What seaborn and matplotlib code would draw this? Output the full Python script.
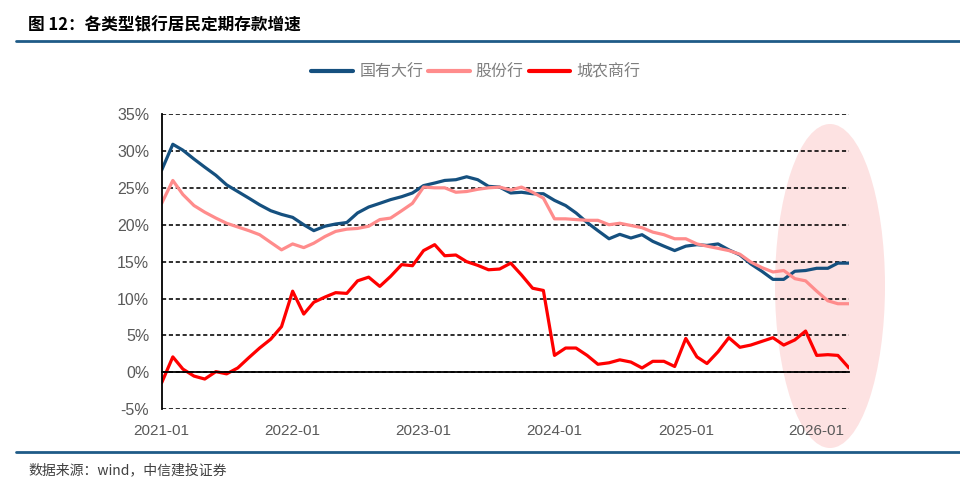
import matplotlib

matplotlib.use("Agg")
import matplotlib.pyplot as plt
import numpy as np
import pandas as pd
import seaborn as sns
from matplotlib.patches import Ellipse
from matplotlib.lines import Line2D

# monthly data, 2021-01 .. 2026-04 (YoY growth, %)
months = pd.date_range("2021-01-01", periods=64, freq="MS")

state_owned = [
    27.4, 30.9, 30.1, 28.9, 27.8, 26.7, 25.4, 24.5, 23.6, 22.7,
    21.9, 21.4, 21.0, 20.0, 19.2, 19.8, 20.1, 20.3, 21.6, 22.4,
    22.9, 23.4, 23.8, 24.3, 25.3, 25.65, 26.0, 26.1, 26.5, 26.1,
    25.2, 25.1, 24.3, 24.4, 24.2, 24.2, 23.3, 22.6, 21.6, 20.3,
    19.2, 18.1, 18.7, 18.2, 18.65, 17.75, 17.1, 16.5, 17.1, 17.3,
    17.2, 17.4, 16.6, 15.9, 14.7, 13.7, 12.6, 12.6, 13.7, 13.8,
    14.1, 14.1, 14.8, 14.8,
]
joint_stock = [
    22.9, 26.0, 24.1, 22.6, 21.7, 20.9, 20.2, 19.7, 19.2, 18.65,
    17.6, 16.6, 17.4, 16.9, 17.5, 18.4, 19.1, 19.4, 19.5, 19.8,
    20.7, 20.9, 21.9, 22.9, 25.1, 25.0, 25.0, 24.4, 24.5, 24.8,
    25.0, 25.1, 24.7, 25.1, 24.4, 23.6, 20.8, 20.8, 20.7, 20.6,
    20.6, 20.0, 20.2, 19.9, 19.6, 19.0, 18.65, 18.1, 18.1, 17.4,
    17.1, 16.8, 16.5, 16.0, 14.95, 14.2, 13.6, 13.8, 12.7, 12.4,
    11.0, 9.7, 9.3, 9.3,
]
rural = [
    -1.4, 2.1, 0.45, -0.5, -0.9, 0.1, -0.2, 0.6, 2.0, 3.3,
    4.5, 6.2, 11.0, 7.9, 9.5, 10.2, 10.8, 10.7, 12.4, 12.9,
    11.65, 13.0, 14.6, 14.45, 16.5, 17.3, 15.8, 15.9, 15.0, 14.5,
    13.9, 14.0, 14.8, 13.2, 11.4, 11.1, 2.3, 3.3, 3.3, 2.3,
    1.1, 1.3, 1.7, 1.4, 0.6, 1.5, 1.5, 0.8, 4.6, 2.1,
    1.2, 2.8, 4.7, 3.4, 3.7, 4.2, 4.7, 3.7, 4.4, 5.6,
    2.3, 2.4, 2.3, 0.6,
]

series_names = ["国有大行", "股份行", "城农商行"]
colors = {"国有大行": "#15507f", "股份行": "#ff8c8c", "城农商行": "#ff0000"}
year_ticks = pd.date_range("2021-01-01", "2026-01-01", freq="YS")
y_ticks = np.arange(-5, 36, 5)

df = pd.DataFrame({"month": months, "国有大行": state_owned, "股份行": joint_stock, "城农商行": rural})
long_df = df.melt(id_vars="month", var_name="series", value_name="value")

sns.set_style("white")
plt.rcParams["font.family"] = ["Liberation Sans", "Noto Sans CJK SC", "DejaVu Sans"]
cjk = ["Noto Sans CJK SC", "DejaVu Sans"]

fig = plt.figure(figsize=(9.6, 4.91), dpi=100)
W, H = 960, 491
ax = fig.add_axes([161.7 / W, 1 - 409.3 / H, (849 - 161.7) / W, (409.3 - 114) / H])
ax.patch.set_visible(False)

sns.lineplot(
    data=long_df, x="month", y="value", hue="series", hue_order=series_names,
    palette=colors, linewidth=2.3, ax=ax, legend=False,
)

ax.set_xlim(months[0], months[-1])
ax.set_ylim(-5, 35)
ax.set_yticks(y_ticks)
ax.set_yticklabels([f"{v}%" for v in y_ticks])
ax.set_xticks(year_ticks)
ax.set_xticklabels([d.strftime("%Y-%m") for d in year_ticks])
ax.set_xlabel("")
ax.set_ylabel("")

ax.yaxis.grid(True, color="black", linestyle=(0, (2.6, 1.7)), linewidth=1.15)
ax.xaxis.grid(False)
for side in ["top", "right"]:
    ax.spines[side].set_visible(False)
ax.spines["left"].set_color("black")
ax.spines["left"].set_linewidth(1.3)
ax.spines["bottom"].set_position(("data", 0))
ax.spines["bottom"].set_color("black")
ax.spines["bottom"].set_linewidth(1.3)
ax.tick_params(axis="x", direction="out", length=4, width=1, color="black", pad=33,
               labelsize=11, labelcolor="#595959")
ax.tick_params(axis="y", direction="out", length=3, width=1, color="black", pad=6,
               labelsize=11.5, labelcolor="#595959")

# highlight ellipse around the latest months
fig.patches.append(Ellipse((830 / W, 1 - 286 / H), 110 / W, 324 / H, transform=fig.transFigure,
                           facecolor="#fde2e2", edgecolor="none", zorder=-1))

handles = [Line2D([], [], color=colors[n], linewidth=3) for n in series_names]
fig.legend(handles, series_names, loc="center", bbox_to_anchor=(476 / W, 1 - 72 / H), ncol=3,
           frameon=False, handlelength=2.6, handletextpad=0.4, columnspacing=0.3,
           prop={"family": cjk, "size": 11.5}, labelcolor="#7f7f7f")

fig.text(28 / W, 1 - 25 / H, "图 12：各类型银行居民定期存款增速", family=cjk, fontsize=12,
         fontweight="bold", va="center", ha="left", color="black")
fig.add_artist(Line2D([16 / W, 1], [1 - 41 / H] * 2, transform=fig.transFigure,
                      color="#1f5b87", linewidth=2))
fig.add_artist(Line2D([16 / W, 1], [1 - 452 / H] * 2, transform=fig.transFigure,
                      color="#1f5b87", linewidth=2))
fig.text(28 / W, 1 - 470 / H, "数据来源：wind，中信建投证券", family=cjk, fontsize=10,
         style="italic", va="center", ha="left", color="#404040")

fig.savefig("out.png", dpi=100)
